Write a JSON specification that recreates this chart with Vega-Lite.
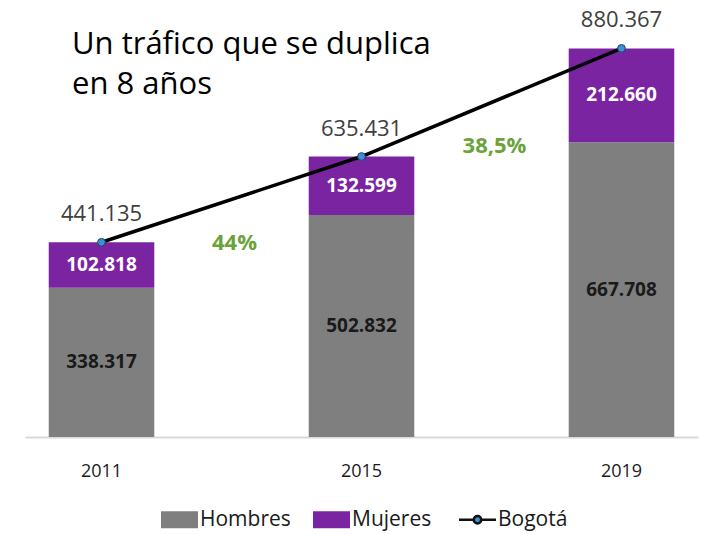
{
  "$schema": "https://vega.github.io/schema/vega-lite/v6.json",
  "width": 673,
  "height": 437,
  "autosize": "none",
  "padding": {"left": 25, "top": 0, "right": 4, "bottom": 97},
  "config": {
    "view": {"stroke": null},
    "font": "Open Sans",
    "locale": {"number": {"decimal": ",", "thousands": ".", "grouping": [3], "currency": ["$", ""]}}
  },
  "title": {
    "text": ["Un tráfico que se duplica", "en 8 años"],
    "anchor": "start",
    "frame": "group",
    "orient": "top",
    "offset": -101,
    "dx": 47,
    "baseline": "top",
    "fontSize": 31,
    "font": "Open Sans",
    "fontWeight": "normal",
    "color": "#000000",
    "lineHeight": 40
  },
  "datasets": {
    "partes": [
      {"year": "2011", "serie": "Hombres", "value": 338317, "orden": 1},
      {"year": "2011", "serie": "Mujeres", "value": 102818, "orden": 2},
      {"year": "2015", "serie": "Hombres", "value": 502832, "orden": 1},
      {"year": "2015", "serie": "Mujeres", "value": 132599, "orden": 2},
      {"year": "2019", "serie": "Hombres", "value": 667708, "orden": 1},
      {"year": "2019", "serie": "Mujeres", "value": 212660, "orden": 2}
    ],
    "totales": [
      {"year": "2011", "total": 441135},
      {"year": "2015", "total": 635431},
      {"year": "2019", "total": 880367}
    ],
    "crecimiento": [
      {"year": "2011", "pct": "44%", "nivel": 440500},
      {"year": "2015", "pct": "38,5%", "nivel": 660000}
    ]
  },
  "encoding": {
    "x": {
      "field": "year",
      "type": "nominal",
      "sort": ["2011", "2015", "2019"],
      "scale": {"paddingInner": 0.594, "paddingOuter": 0.0913},
      "axis": {
        "title": null,
        "labelAngle": 0,
        "ticks": false,
        "domainColor": "#d9d9d9",
        "domainWidth": 2,
        "labelFontSize": 18,
        "labelFont": "Open Sans",
        "labelColor": "#1a1a1a",
        "labelPadding": 25,
        "grid": false
      }
    }
  },
  "layer": [
    {
      "data": {"name": "partes"},
      "transform": [
        {"stack": "value", "groupby": ["year"], "sort": [{"field": "orden"}], "as": ["v0", "v1"]}
      ],
      "mark": {"type": "bar"},
      "encoding": {
        "y": {"field": "v0", "type": "quantitative", "scale": {"domain": [0, 990000], "nice": false, "zero": true}, "axis": null},
        "y2": {"field": "v1"},
        "fill": {
          "field": "serie",
          "type": "nominal",
          "scale": {"domain": ["Hombres", "Mujeres", "Bogotá"], "range": ["#7f7f7f", "#7b24a2", "#3d8fd6"]},
          "legend": {
            "orient": "none",
            "legendX": 144,
            "legendY": 509,
            "direction": "horizontal",
            "title": null,
            "padding": 0,
            "labelFontSize": 21,
            "labelFont": "Open Sans",
            "labelColor": "#1a1a1a",
            "symbolSize": 1369,
            "symbolOpacity": 1,
            "labelOffset": 10,
            "columnPadding": 22,
            "encode": {
              "symbols": {
                "update": {
                  "shape": {"signal": "datum.value === 'Bogotá' ? 'M-1,0H-0.2M0.2,0H1M-0.2,0A0.2,0.2,0,1,1,0.2,0A0.2,0.2,0,1,1,-0.2,0Z' : 'M-1,-0.46H1V0.46H-1Z'"},
                  "stroke": {"signal": "datum.value === 'Bogotá' ? '#111111' : 'transparent'"},
                  "strokeWidth": {"signal": "datum.value === 'Bogotá' ? 2.5 : 0"}
                }
              }
            }
          }
        }
      }
    },
    {
      "data": {"name": "partes"},
      "transform": [
        {"stack": "value", "groupby": ["year"], "sort": [{"field": "orden"}], "as": ["v0", "v1"]},
        {"calculate": "(datum.v0 + datum.v1) / 2", "as": "mid"}
      ],
      "mark": {"type": "text", "fontSize": 19, "fontWeight": "bold", "font": "Open Sans", "baseline": "middle", "align": "center"},
      "encoding": {
        "y": {"field": "mid", "type": "quantitative"},
        "text": {"field": "value", "type": "quantitative", "format": ",d"},
        "color": {"condition": {"test": "datum.serie === 'Mujeres'", "value": "#ffffff"}, "value": "#1a1a1a"}
      }
    },
    {
      "data": {"name": "totales"},
      "mark": {"type": "line", "color": "#000000", "strokeWidth": 3.5},
      "encoding": {
        "y": {"field": "total", "type": "quantitative"}
      }
    },
    {
      "data": {"name": "totales"},
      "mark": {"type": "point", "shape": "circle", "filled": true, "size": 60, "fill": "#3d8fd6", "stroke": "#1f3f66", "strokeWidth": 1, "opacity": 1},
      "encoding": {
        "y": {"field": "total", "type": "quantitative"}
      }
    },
    {
      "data": {"name": "totales"},
      "mark": {"type": "text", "fontSize": 22, "font": "Open Sans", "color": "#404040", "baseline": "middle", "align": "center", "dy": -28},
      "encoding": {
        "y": {"field": "total", "type": "quantitative"},
        "text": {"field": "total", "type": "quantitative", "format": ",d"}
      }
    },
    {
      "data": {"name": "crecimiento"},
      "mark": {"type": "text", "fontSize": 22, "fontWeight": "bold", "font": "Open Sans", "color": "#6aa33a", "baseline": "middle", "align": "center", "dx": 133},
      "encoding": {
        "y": {"field": "nivel", "type": "quantitative"},
        "text": {"field": "pct", "type": "nominal"}
      }
    }
  ]
}
